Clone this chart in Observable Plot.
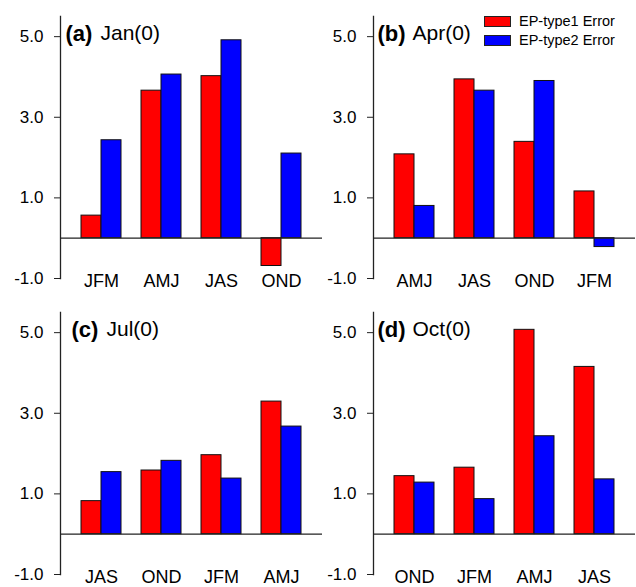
<!DOCTYPE html>
<html><head><meta charset="utf-8">
<script src="https://cdn.jsdelivr.net/npm/d3@7"></script>
<script src="https://cdn.jsdelivr.net/npm/@observablehq/plot@0.6"></script>
<style>
body{margin:0;background:#fff;overflow:hidden}
#wrap{position:relative;width:636px;height:587px;overflow:hidden;background:#fff;font-family:"Liberation Sans",Arial,sans-serif}
.panel{position:absolute}
.legend{position:absolute;left:484px;top:16px}
.lrow{position:absolute;left:0;display:flex;align-items:center;height:11px;white-space:nowrap}
.sw{width:27px;height:11px;box-sizing:border-box;border:1px solid #222;margin-right:8px}
.lt{font-size:14.5px;line-height:11px;color:#000}
</style></head><body><div id="wrap"></div>
<script>
// ---- data ----
const series = ["EP-type1 Error", "EP-type2 Error"];
const seriesColors = ["#ff0000", "#0000ff"];
const panelIds = ["(a)", "(b)", "(c)", "(d)"];
const panelMonths = ["Jan(0)", "Apr(0)", "Jul(0)", "Oct(0)"];
const seasonsA = ["JFM", "AMJ", "JAS", "OND"];
const seasonsB = ["AMJ", "JAS", "OND", "JFM"];
const seasonsC = ["JAS", "OND", "JFM", "AMJ"];
const seasonsD = ["OND", "JFM", "AMJ", "JAS"];
const type1A = [0.56, 3.66, 4.02, -0.69];
const type2A = [2.43, 4.06, 4.91, 2.10];
const type1B = [2.08, 3.94, 2.39, 1.16];
const type2B = [0.80, 3.66, 3.90, -0.22];
const type1C = [0.82, 1.58, 1.96, 3.29];
const type2C = [1.54, 1.82, 1.38, 2.67];
const type1D = [1.44, 1.65, 5.07, 4.15];
const type2D = [1.28, 0.87, 2.43, 1.36];
const yTicks = [-1, 1, 3, 5];
const yTickLabels = ["-1.0", "1.0", "3.0", "5.0"];
const yDomain = [-1, 5.5];

// ---- layout ----
const panels = [
  {seasons: seasonsA, t1: type1A, t2: type2A, left: 0, top: 0, width: 322, mr: 0, dxId: 5, dxM: 40},
  {seasons: seasonsB, t1: type1B, t2: type2B, left: 313, top: 0, width: 323, mr: 1, dxId: 4, dxM: 39},
  {seasons: seasonsC, t1: type1C, t2: type2C, left: 0, top: 296, width: 322, mr: 0, dxId: 11, dxM: 46},
  {seasons: seasonsD, t1: type1D, t2: type2D, left: 313, top: 296, width: 323, mr: 1, dxId: 4, dxM: 39}
];

const wrap = document.getElementById("wrap");
const font = "'Liberation Sans', Arial, sans-serif";
const H = 296, MT = 16, MB = 18, ML = 60;

function place(svg, p) {
  svg.classList.add("panel");
  svg.style.left = p.left + "px";
  svg.style.top = p.top + "px";
  wrap.appendChild(svg);
}

panels.forEach((p, i) => {
  const rows = [];
  p.seasons.forEach((s, j) => {
    rows.push({season: s, series: series[0], value: p.t1[j]});
    rows.push({season: s, series: series[1], value: p.t2[j]});
  });
  // background layer: y axis, panel title
  const back = Plot.plot({
    width: p.width, height: H,
    marginLeft: ML, marginRight: p.mr, marginTop: MT, marginBottom: MB,
    style: {fontFamily: font, fontSize: "17px", color: "#000", background: "transparent", overflow: "visible"},
    y: {domain: yDomain, axis: null},
    marks: [
      Plot.frame({anchor: "left", stroke: "#222", strokeWidth: 1.3}),
      Plot.axisY(yTicks, {tickSize: 6, tickPadding: 11, fontSize: 17, stroke: "#222",
        tickFormat: d => yTickLabels[yTicks.indexOf(d)]}),
      Plot.text([panelIds[i]], {text: d => d, frameAnchor: "top-left", textAnchor: "start", lineAnchor: "middle",
        dx: p.dxId, dy: 17, fontSize: 22, fontWeight: "bold", fill: "#000"}),
      Plot.text([panelMonths[i]], {text: d => d, frameAnchor: "top-left", textAnchor: "start", lineAnchor: "middle",
        dx: p.dxM, dy: 17, fontSize: 21, fill: "#000"})
    ]
  });
  place(back, p);
  // foreground layer: grouped bars, season labels
  const front = Plot.plot({
    width: p.width, height: H,
    marginLeft: ML, marginRight: p.mr, marginTop: MT, marginBottom: MB,
    style: {fontFamily: font, fontSize: "18px", color: "#000", background: "transparent", overflow: "visible"},
    x: {domain: series, padding: 0, axis: null},
    y: {domain: yDomain, axis: null},
    fx: {domain: p.seasons, paddingInner: 0.34, paddingOuter: 0.33, label: null, axis: "bottom", tickSize: 0, tickPadding: -4},
    color: {domain: series, range: seriesColors},
    marks: [
      Plot.barY(rows, {fx: "season", x: "series", y: "value", fill: "series", stroke: "#111", strokeWidth: 1})
    ]
  });
  place(front, p);
  // zero line on top spanning the full panel frame
  const zero = Plot.plot({
    width: p.width, height: H,
    marginLeft: ML, marginRight: p.mr, marginTop: MT, marginBottom: MB,
    style: {background: "transparent", overflow: "visible"},
    y: {domain: yDomain, axis: null},
    marks: [Plot.ruleY([0], {stroke: "#222", strokeWidth: 1.3})]
  });
  place(zero, p);
});

// legend
const legend = document.createElement("div");
legend.className = "legend";
series.forEach((s, k) => {
  const row = document.createElement("div");
  row.className = "lrow";
  row.style.top = (k * 19.3) + "px";
  const sw = document.createElement("div");
  sw.className = "sw";
  sw.style.background = seriesColors[k];
  const t = document.createElement("span");
  t.className = "lt";
  t.textContent = s;
  row.appendChild(sw);
  row.appendChild(t);
  legend.appendChild(row);
});
wrap.appendChild(legend);
</script>
</body></html>
